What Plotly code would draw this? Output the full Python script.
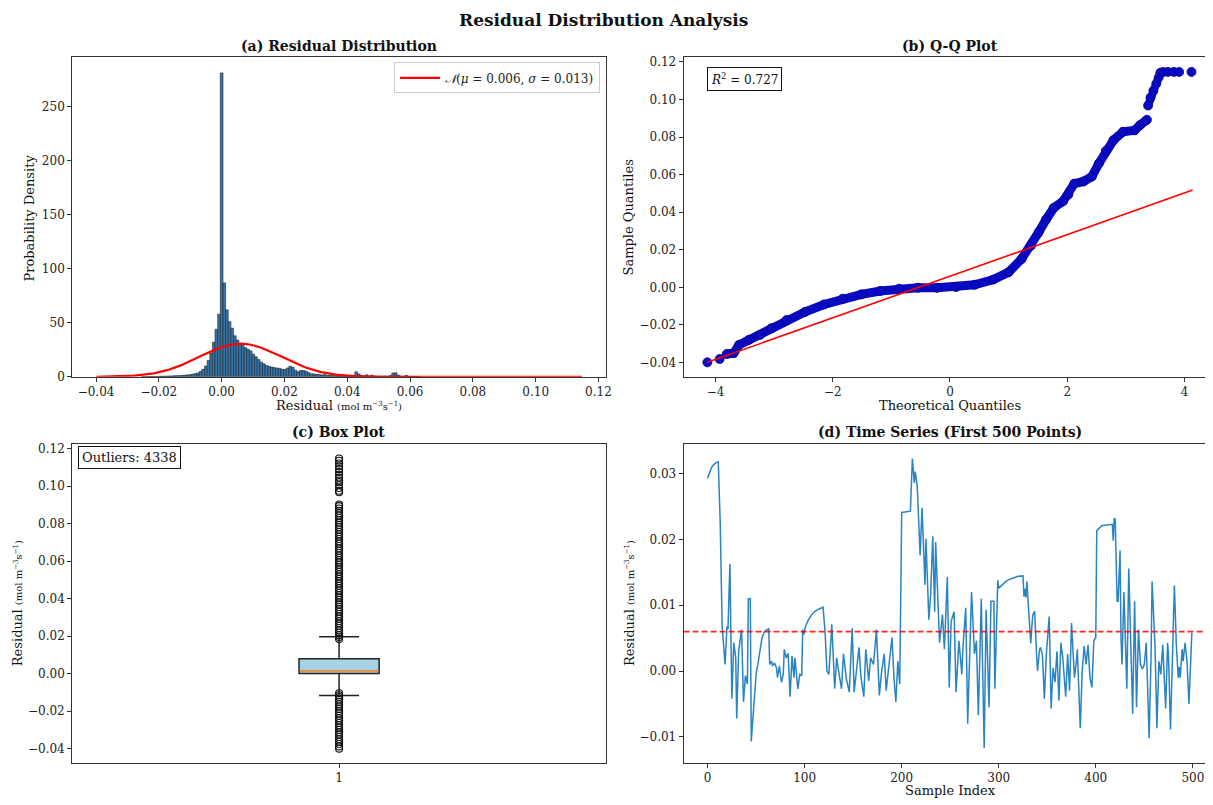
import numpy as np
import plotly.graph_objects as go

F = "DejaVu Serif"
W, H = 1213, 805
OFF = 8                      # browser body margin
FW, FH = W - OFF, H - OFF    # figure size that fits the window

# ---------------- (a) histogram data ----------------
hist_start = -0.0399          # left edge of first bin
hist_width = 0.00084          # bin width
hist_first_bin = 17           # index of first listed bin
hist_density = [
    0.15, 0.17, 0.2, 0.25, 0.3, 0.35, 0.4, 0.45, 0.5, 0.6,
    0.7, 0.8, 0.9, 1.0, 1.15, 1.3, 1.5, 1.75, 2.0, 2.4,
    2.9, 3.6, 5.0, 7.0, 10.0, 15.0, 22.0, 32.0, 44.0, 58.0,
    281.5,
    87, 62, 51, 45, 38, 34, 31, 29, 27, 25.5,
    24, 21, 18.5, 16, 13.5, 12, 10.5, 9.8, 9, 8.5,
    8.2, 7.8, 7, 6.8, 8.2, 9.8, 8.8, 6, 4.6, 5.8,
    5.8, 5.2, 3.8, 2.8, 2.7, 2.2, 2.1, 1.6, 2.1, 1.3,
    1.5, 1.2, 1.0, 0.9, 0.8, 0.9, 0.6, 0.7, 0.8, 1.5,
    4.6, 2.7, 1.2, 0.8, 1.8, 0.6, 1.5, 0.5, 0.4, 0.5,
    0.4, 0.6, 0.5, 1.2, 3.5, 3.7, 1.5, 0.6, 0.4, 1.2,
    0.4, 0.3, 0.2, 0.2, 0.15,
]
fit_mu = 0.006
fit_sigma = 0.013
data_min, data_max = -0.0399, 0.1147

# ---------------- (b) Q-Q data ----------------
qq_band_theo = [-3.81, -3.69, -3.60, -3.43, -3.24, -3.05, -2.79, -2.47, -2.15, -1.83,
                -1.51, -1.19, -0.87, -0.55, -0.22, 0.10, 0.42, 0.74, 1.00, 1.22,
                1.38, 1.51, 1.64, 1.77, 1.93, 2.02, 2.12, 2.28, 2.42, 2.54,
                2.66, 2.79, 2.95, 3.15, 3.24, 3.36]
qq_band_samp = [-0.0355, -0.0350, -0.0306, -0.0279, -0.0253, -0.0218, -0.0174, -0.0130, -0.0091, -0.0060,
                -0.0037, -0.0019, -0.0007, -0.0002, -0.0002, 0.0002, 0.0014, 0.0042, 0.0081, 0.0151,
                0.0221, 0.0292, 0.0362, 0.0423, 0.0459, 0.0494, 0.0552, 0.0564, 0.0590, 0.0660,
                0.0727, 0.0784, 0.0828, 0.0836, 0.0863, 0.0892]
qq_top_theo = [3.38, 3.42, 3.47, 3.52, 3.56, 3.59, 3.64]
qq_top_samp = [0.0968, 0.1010, 0.1047, 0.1085, 0.1117, 0.1143, 0.1147]
qq_dots_theo = [-4.14, -3.93, 3.72, 3.82, 3.91, 4.12]
qq_dots_samp = [-0.0399, -0.0381, 0.1147, 0.1147, 0.1147, 0.1147]
qq_line_theo = [-4.14, 4.14]
qq_line_samp = [-0.0399, 0.0518]
r2_text = "0.727"

# ---------------- (c) box plot data ----------------
box_q1, box_median, box_q3 = 0.0000, 0.0012, 0.0079
box_low_whisker, box_high_whisker = -0.0117, 0.0196
box_out_high = [0.0185, 0.0195, 0.0205, 0.0218, 0.0230, 0.0243, 0.0255, 0.0268, 0.0280, 0.0293,
                0.0305, 0.0318, 0.0330, 0.0343, 0.0355, 0.0368, 0.0380, 0.0393, 0.0405, 0.0418,
                0.0430, 0.0443, 0.0455, 0.0468, 0.0480, 0.0493, 0.0505, 0.0518, 0.0530, 0.0543,
                0.0555, 0.0568, 0.0580, 0.0593, 0.0605, 0.0618, 0.0630, 0.0643, 0.0655, 0.0668,
                0.0680, 0.0693, 0.0705, 0.0718, 0.0730, 0.0743, 0.0755, 0.0768, 0.0780, 0.0793,
                0.0805, 0.0818, 0.0830, 0.0843, 0.0855, 0.0868, 0.0880, 0.0893, 0.0902,
                0.0967, 0.0975, 0.0990, 0.1005, 0.1020, 0.1030, 0.1045, 0.1060, 0.1075,
                0.1090, 0.1105, 0.1120, 0.1135, 0.1147]
box_out_low = [-0.0105, -0.0115, -0.0125, -0.0138, -0.0150, -0.0163, -0.0175, -0.0188, -0.0200,
               -0.0213, -0.0225, -0.0238, -0.0250, -0.0263, -0.0275, -0.0288, -0.0300, -0.0313,
               -0.0325, -0.0338, -0.0350, -0.0363, -0.0375, -0.0388, -0.0400]
n_outliers = 4338

# ---------------- (d) time series data ----------------
ts_idx = [0, 2, 4, 6, 8, 11, 13, 15, 18, 20, 21, 23, 25, 27, 29, 30, 32, 35, 37, 39,
          41, 42, 44, 45, 48, 50, 52, 54, 56, 58, 60, 63, 64, 66, 67, 69, 71, 72, 74, 76,
          78, 79, 81, 83, 85, 87, 89, 90, 93, 95, 97, 98, 99, 101, 104, 107, 110, 113, 116, 119,
          121, 123, 125, 128, 131, 133, 135, 138, 140, 143, 146, 149, 151, 154, 156, 158, 161, 163, 166, 168,
          171, 174, 177, 179, 182, 184, 187, 190, 192, 194, 196, 198, 200, 209, 211, 213, 214, 216, 219, 221,
          224, 225, 228, 230, 232, 234, 235, 237, 239, 242, 244, 247, 249, 251, 254, 256, 259, 262, 263, 266,
          268, 272, 275, 277, 279, 282, 283, 285, 287, 290, 292, 295, 296, 299, 300, 304, 308, 312, 316, 320,
          325, 326, 327, 328, 329, 331, 333, 335, 337, 339, 340, 342, 343, 345, 347, 349, 352, 354, 356, 358,
          360, 362, 364, 366, 369, 371, 373, 375, 378, 380, 381, 384, 386, 388, 390, 392, 394, 396, 398, 400,
          401, 406, 411, 417, 418, 419, 420, 422, 423, 425, 426, 427, 429, 431, 432, 434, 436, 438, 440, 442,
          444, 446, 448, 450, 452, 455, 457, 458, 461, 463, 465, 467, 469, 472, 474, 475, 477, 479, 481, 483,
          485, 486, 487, 489, 490, 492, 494, 496, 499]
ts_val = [0.0293, 0.0302, 0.0309, 0.0313, 0.0316, 0.0318, 0.0226, 0.0068, 0.0010, 0.0068,
          0.0063, 0.0163, -0.0042, 0.0043, 0.0020, -0.0072, 0.0030, 0.0063, -0.0047, -0.0007,
          -0.0020, 0.0110, 0.0110, -0.0107, -0.0045, -0.0005, 0.0012, 0.0035, 0.0050, 0.0058,
          0.0062, 0.0064, 0.0010, 0.0015, 0.0008, 0.0012, 0.0005, -0.0010, 0.0008, -0.0017,
          -0.0005, 0.0033, 0.0020, 0.0027, -0.0039, 0.0023, -0.0010, 0.0020, -0.0027, -0.0005,
          -0.0007, 0.0063, 0.0055, 0.0068, 0.0078, 0.0085, 0.0090, 0.0093, 0.0095, 0.0097,
          0.0060, 0.0000, -0.0005, 0.0071, -0.0027, 0.0020, 0.0000, -0.0027, 0.0026, -0.0012,
          -0.0032, 0.0065, -0.0032, 0.0010, 0.0036, -0.0009, -0.0039, 0.0033, -0.0015, 0.0020,
          0.0010, 0.0063, -0.0037, -0.0005, 0.0026, -0.0030, 0.0006, 0.0051, -0.0009, -0.0047,
          0.0015, -0.0020, 0.0241, 0.0243, 0.0323, 0.0286, 0.0303, 0.0281, 0.0176, 0.0248,
          0.0131, 0.0201, 0.0078, 0.0120, 0.0205, 0.0090, 0.0196, 0.0128, 0.0043, 0.0086,
          0.0033, 0.0143, -0.0025, 0.0076, 0.0090, -0.0032, 0.0046, -0.0005, 0.0033, 0.0096,
          -0.0080, 0.0120, 0.0026, 0.0046, -0.0067, 0.0110, 0.0015, -0.0117, 0.0093, -0.0055,
          0.0106, 0.0106, -0.0027, 0.0138, 0.0126, 0.0132, 0.0137, 0.0140, 0.0142, 0.0144,
          0.01446, 0.0113, 0.0125, 0.0112, 0.0136, 0.0090, 0.0042, 0.0085, 0.0091, 0.0025,
          0.0000, 0.0032, 0.0036, 0.0025, -0.0042, 0.0025, 0.0083, -0.0057, 0.0005, -0.0017,
          0.0030, -0.0045, 0.0043, 0.0020, -0.0039, 0.0026, -0.0030, 0.0073, -0.0010, 0.0015,
          0.0033, -0.0087, 0.0000, 0.0038, 0.0010, 0.0040, -0.0010, -0.0025, 0.0046, 0.0051,
          0.0213, 0.0221, 0.0222, 0.0223, 0.0198, 0.0232, 0.0231, 0.0106, 0.0106, 0.0183,
          0.0051, 0.0010, 0.0120, 0.0040, -0.0027, 0.0156, 0.0046, -0.0065, 0.0106, -0.0055,
          0.0063, 0.0010, 0.0003, 0.0010, 0.0043, -0.0102, 0.0026, 0.0136, 0.0040, -0.0087,
          0.0015, -0.0005, 0.0040, -0.0057, 0.0043, 0.0020, -0.0089, 0.0015, 0.0130, 0.0040,
          -0.0010, 0.0006, -0.0010, 0.0033, 0.0015, 0.0043, 0.0015, -0.0050, 0.0058]
ts_mean = 0.006

# ---------------- build figure ----------------
fig = go.Figure()

# (a)
centers = [hist_start + (hist_first_bin + i + 0.5) * hist_width for i in range(len(hist_density))]
fig.add_trace(go.Bar(x=centers, y=hist_density, width=hist_width,
                     marker=dict(color="#3a77a8", line=dict(color="#15202b", width=0.6)),
                     showlegend=False, xaxis="x", yaxis="y"))
xs = np.linspace(data_min, data_max, 400)
pdf = np.exp(-0.5 * ((xs - fit_mu) / fit_sigma) ** 2) / (fit_sigma * np.sqrt(2 * np.pi))
fig.add_trace(go.Scatter(x=xs, y=pdf, mode="lines", line=dict(color="red", width=2.2),
                         name="<i>𝒩</i>(<i>μ</i> = 0.006, <i>σ</i> = 0.013)",
                         showlegend=True, xaxis="x", yaxis="y"))

# (b)
qq_blue = "#0a0ac4"
fig.add_trace(go.Scatter(x=qq_band_theo, y=qq_band_samp, mode="lines+markers",
                         line=dict(color=qq_blue, width=9),
                         marker=dict(color=qq_blue, size=9, line=dict(color="#00008b", width=0.8)),
                         showlegend=False, xaxis="x2", yaxis="y2"))
fig.add_trace(go.Scatter(x=qq_top_theo, y=qq_top_samp, mode="lines+markers",
                         line=dict(color=qq_blue, width=8),
                         marker=dict(color=qq_blue, size=9, line=dict(color="#00008b", width=0.8)),
                         showlegend=False, xaxis="x2", yaxis="y2"))
fig.add_trace(go.Scatter(x=qq_dots_theo, y=qq_dots_samp, mode="markers",
                         marker=dict(color=qq_blue, size=9, line=dict(color="#00008b", width=0.8)),
                         showlegend=False, xaxis="x2", yaxis="y2"))
fig.add_trace(go.Scatter(x=qq_line_theo, y=qq_line_samp, mode="lines",
                         line=dict(color="red", width=1.6),
                         showlegend=False, xaxis="x2", yaxis="y2"))

# (c)
fig.add_trace(go.Box(x=[1], q1=[box_q1], median=[box_median], q3=[box_q3],
                     lowerfence=[box_low_whisker], upperfence=[box_high_whisker],
                     orientation="v", width=0.15, whiskerwidth=0.5,
                     fillcolor="#a6d2e6", line=dict(color="#222222", width=1.5),
                     boxpoints=False, showlegend=False, xaxis="x3", yaxis="y3"))
fig.add_trace(go.Scatter(x=[0.926, 1.074], y=[box_median, box_median], mode="lines",
                         line=dict(color="#f0963c", width=2), showlegend=False,
                         xaxis="x3", yaxis="y3"))
outs = box_out_high + box_out_low
fig.add_trace(go.Scatter(x=[1] * len(outs), y=outs, mode="markers",
                         marker=dict(symbol="circle-open", size=7, color="#111111",
                                     line=dict(width=1.1)),
                         showlegend=False, xaxis="x3", yaxis="y3"))

# (d)
fig.add_trace(go.Scatter(x=ts_idx, y=ts_val, mode="lines", line=dict(color="#2a83c2", width=1.5),
                         showlegend=False, xaxis="x4", yaxis="y4"))
fig.add_trace(go.Scatter(x=[-24.7, 514.6], y=[ts_mean, ts_mean], mode="lines",
                         line=dict(color="rgba(255,0,0,0.85)", width=1.8, dash="6px,3px"),
                         showlegend=False, xaxis="x4", yaxis="y4"))

# ---------------- layout ----------------
def px_x(p):
    return (p - OFF) / FW

def px_y(p):
    return 1 - (p - OFF) / FH

tickfont = dict(family=F, size=12, color="#222222")
def ax(**kw):
    base = dict(showline=True, linecolor="#333333", linewidth=1, mirror=True,
                ticks="outside", ticklen=4, tickcolor="#333333", tickwidth=1,
                showgrid=False, zeroline=False, tickfont=tickfont)
    base.update(kw)
    return base

left_dom = [px_x(72.5), px_x(609)]
right_dom = [px_x(687), 1.0]
top_dom = [px_y(379), px_y(56)]
bot_dom = [px_y(769.5), px_y(447)]

fig.update_layout(
    width=FW, height=FH,
    margin=dict(l=0, r=0, t=0, b=0),
    paper_bgcolor="white", plot_bgcolor="white",
    font=dict(family=F, size=12, color="#222222"),
    xaxis=ax(domain=left_dom, anchor="y", range=[-0.0476, 0.1224],
             tickvals=[-0.04, -0.02, 0, 0.02, 0.04, 0.06, 0.08, 0.10, 0.12], tickformat=".2f"),
    yaxis=ax(domain=top_dom, anchor="x", range=[0, 295.8], tickvals=[0, 50, 100, 150, 200, 250]),
    xaxis2=ax(domain=right_dom, anchor="y2", range=[-4.545, 4.385], tickvals=[-4, -2, 0, 2, 4]),
    yaxis2=ax(domain=top_dom, anchor="x2", range=[-0.0476, 0.1224], mirror=False,
              tickvals=[-0.04, -0.02, 0, 0.02, 0.04, 0.06, 0.08, 0.10, 0.12], tickformat=".2f"),
    xaxis3=ax(domain=left_dom, anchor="y3", range=[0.5, 1.5], tickvals=[1], ticktext=["1"]),
    yaxis3=ax(domain=bot_dom, anchor="x3", range=[-0.0476, 0.1224],
              tickvals=[-0.04, -0.02, 0, 0.02, 0.04, 0.06, 0.08, 0.10, 0.12], tickformat=".2f"),
    xaxis4=ax(domain=right_dom, anchor="y4", range=[-24.7, 514.6],
              tickvals=[0, 100, 200, 300, 400, 500]),
    yaxis4=ax(domain=bot_dom, anchor="x4", range=[-0.01396, 0.0345], mirror=False,
              tickvals=[-0.01, 0, 0.01, 0.02, 0.03], tickformat=".2f"),
    legend=dict(x=px_x(603), y=px_y(61), xanchor="right", yanchor="top",
                bgcolor="white", bordercolor="#cccccc", borderwidth=1,
                font=dict(family=F, size=12, color="#222222"), itemwidth=40,
                tracegroupgap=0),
    showlegend=True,
)

unit = "<span style='font-size:10px'>(mol m<sup>−3</sup>s<sup>−1</sup>)</span>"
ann = []
def text(x, y, s, size=13, bold=False, angle=0, **kw):
    d = dict(x=px_x(x), y=px_y(y), xref="paper", yref="paper", text=(f"<b>{s}</b>" if bold else s),
             showarrow=False, textangle=angle, font=dict(family=F, size=size, color="#111111"),
             xanchor="center", yanchor="middle")
    d.update(kw)
    ann.append(d)

text(606, 18, "Residual Distribution Analysis", size=17, bold=True)
text(340.5, 44, "(a) Residual Distribution", size=14, bold=True)
text(955, 44, "(b) Q-Q Plot", size=14, bold=True)
text(340.5, 435, "(c) Box Plot", size=14, bold=True)
text(955, 435, "(d) Time Series (First 500 Points)", size=14, bold=True)

text(340.5, 408, "Residual " + unit)
text(30, 218, "Probability Density", angle=-90)
text(955, 408, "Theoretical Quantiles")
text(632, 218, "Sample Quantiles", angle=-90)
text(17, 608, "Residual " + unit, angle=-90)
text(955, 797, "Sample Index")
text(632, 608, "Residual " + unit, angle=-90)

ann.append(dict(x=px_x(710), y=px_y(66), xref="paper", yref="paper", xanchor="left", yanchor="top",
                text="<i>R</i><sup>2</sup> = " + r2_text, showarrow=False,
                font=dict(family=F, size=12, color="#111111"),
                bordercolor="#111111", borderwidth=1, borderpad=3, bgcolor="white"))
ann.append(dict(x=px_x(78), y=px_y(449), xref="paper", yref="paper", xanchor="left", yanchor="top",
                text=f"Outliers: {n_outliers}", showarrow=False,
                font=dict(family=F, size=13, color="#111111"),
                bordercolor="#111111", borderwidth=1, borderpad=3, bgcolor="white"))
fig.update_layout(annotations=ann)

fig.write_html("out.html")
